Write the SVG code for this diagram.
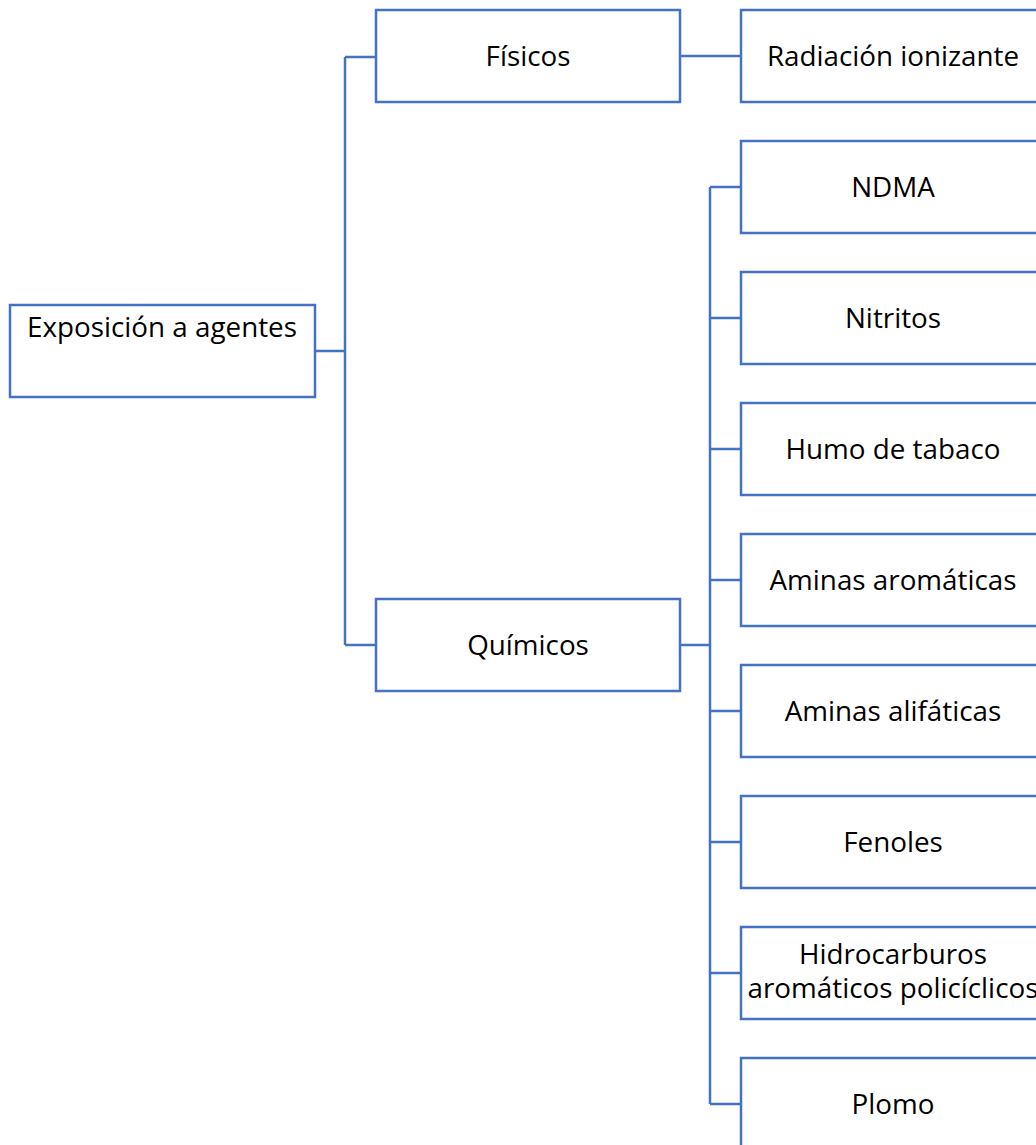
<svg xmlns="http://www.w3.org/2000/svg" width="1036" height="1145" viewBox="0 0 1036 1145">
<style>
.box{fill:#fff;stroke:#4472C4;stroke-width:2.5}
.ln{fill:none;stroke:#4472C4;stroke-width:2.5}
text{font-family:"Open Sans","Liberation Sans",sans-serif;font-size:27.8px;fill:#000;text-anchor:middle}
</style>
<rect width="1036" height="1145" fill="#fff"/>
<g id="connectors">
<path class="ln" d="M315 351H345M345 57V645M345 57H376M345 645H376"/>
<path class="ln" d="M680 56H741"/>
<path class="ln" d="M680 645H710M710 187V1104M710 187H741M710 318H741M710 449H741M710 580H741M710 711H741M710 842H741M710 973H741M710 1104H741"/>
</g>
<g id="root"><rect class="box" x="10" y="305" width="305" height="92"/><text x="162" y="337">Exposición a agentes</text></g>
<g id="fisicos"><rect class="box" x="376" y="10" width="304" height="92"/><text x="528" y="66">Físicos</text></g>
<g id="quimicos"><rect class="box" x="376" y="599" width="304" height="92"/><text x="528" y="655">Químicos</text></g>
<g id="radiacion"><rect class="box" x="741" y="10" width="305" height="92"/><text x="893" y="66">Radiación ionizante</text></g>
<g id="ndma"><rect class="box" x="741" y="141" width="305" height="92"/><text x="893" y="197">NDMA</text></g>
<g id="nitritos"><rect class="box" x="741" y="272" width="305" height="92"/><text x="893" y="328">Nitritos</text></g>
<g id="humo"><rect class="box" x="741" y="403" width="305" height="92"/><text x="893" y="459">Humo de tabaco</text></g>
<g id="aromaticas"><rect class="box" x="741" y="534" width="305" height="92"/><text x="893" y="590">Aminas aromáticas</text></g>
<g id="alifaticas"><rect class="box" x="741" y="665" width="305" height="92"/><text x="893" y="721">Aminas alifáticas</text></g>
<g id="fenoles"><rect class="box" x="741" y="796" width="305" height="92"/><text x="893" y="852">Fenoles</text></g>
<g id="hidrocarburos"><rect class="box" x="741" y="927" width="305" height="92"/><text x="893" y="964">Hidrocarburos</text><text x="893" y="998">aromáticos policíclicos</text></g>
<g id="plomo"><rect class="box" x="741" y="1058" width="305" height="92"/><text x="893" y="1114">Plomo</text></g>
</svg>
